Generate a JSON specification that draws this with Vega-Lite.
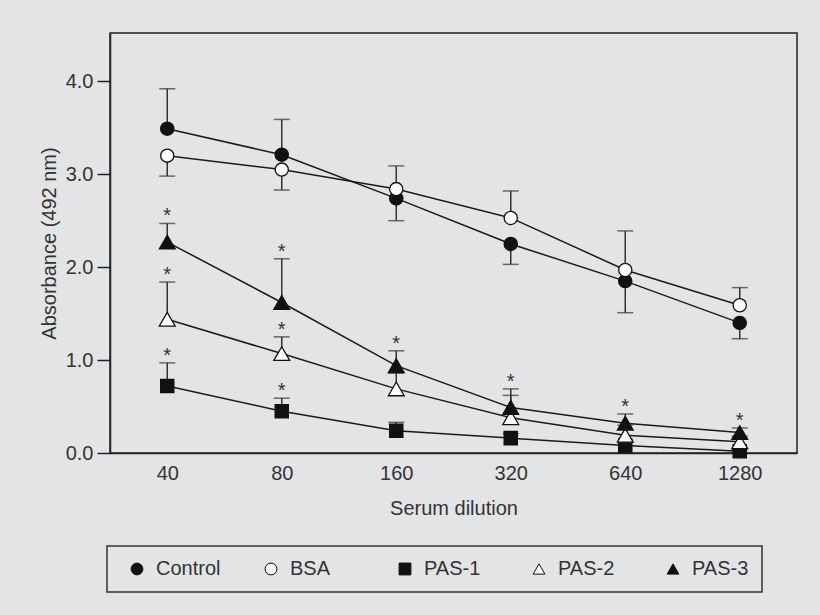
{
  "$schema": "https://vega.github.io/schema/vega-lite/v6.json",
  "width": 687,
  "height": 420,
  "autosize": {"type": "none"},
  "padding": {"left": 110, "top": 33, "right": 23, "bottom": 162},
  "background": "#e3e4e6",
  "config": {
    "font": "Liberation Sans",
    "view": {"stroke": "#222222", "strokeWidth": 1.5},
    "axis": {
      "grid": false,
      "domainColor": "#222222",
      "domainWidth": 1.5,
      "tickColor": "#222222",
      "tickWidth": 1.5,
      "labelColor": "#333333",
      "titleColor": "#333333",
      "labelFont": "Liberation Sans",
      "titleFont": "Liberation Sans",
      "titleFontWeight": "normal",
      "labelFontSize": 20,
      "titleFontSize": 20
    },
    "legend": {
      "labelFont": "Liberation Sans",
      "labelFontSize": 20,
      "labelColor": "#333333",
      "symbolSize": 140,
      "symbolStrokeWidth": 1,
      "strokeColor": "#333333",
      "strokeWidth": 1.5,
      "padding": 13,
      "symbolOffset": 7,
      "labelOffset": 9
    }
  },
  "data": {
    "values": [
      {"group": "Control", "dilution": 40, "mean": 3.49, "bar": 3.92, "star": false},
      {"group": "Control", "dilution": 80, "mean": 3.21, "bar": 3.59, "star": false},
      {"group": "Control", "dilution": 160, "mean": 2.74, "bar": 2.5, "star": false},
      {"group": "Control", "dilution": 320, "mean": 2.25, "bar": 2.03, "star": false},
      {"group": "Control", "dilution": 640, "mean": 1.85, "bar": 1.51, "star": false},
      {"group": "Control", "dilution": 1280, "mean": 1.4, "bar": 1.23, "star": false},
      {"group": "BSA", "dilution": 40, "mean": 3.2, "bar": 2.98, "star": false},
      {"group": "BSA", "dilution": 80, "mean": 3.05, "bar": 2.83, "star": false},
      {"group": "BSA", "dilution": 160, "mean": 2.84, "bar": 3.09, "star": false},
      {"group": "BSA", "dilution": 320, "mean": 2.53, "bar": 2.82, "star": false},
      {"group": "BSA", "dilution": 640, "mean": 1.97, "bar": 2.39, "star": false},
      {"group": "BSA", "dilution": 1280, "mean": 1.59, "bar": 1.78, "star": false},
      {"group": "PAS-1", "dilution": 40, "mean": 0.72, "bar": 0.97, "star": true},
      {"group": "PAS-1", "dilution": 80, "mean": 0.45, "bar": 0.59, "star": true},
      {"group": "PAS-1", "dilution": 160, "mean": 0.24, "bar": 0.33, "star": false},
      {"group": "PAS-1", "dilution": 320, "mean": 0.16, "bar": 0.21, "star": false},
      {"group": "PAS-1", "dilution": 640, "mean": 0.08, "bar": 0.12, "star": false},
      {"group": "PAS-1", "dilution": 1280, "mean": 0.02, "bar": 0.04, "star": false},
      {"group": "PAS-2", "dilution": 40, "mean": 1.44, "bar": 1.84, "star": true},
      {"group": "PAS-2", "dilution": 80, "mean": 1.07, "bar": 1.25, "star": true},
      {"group": "PAS-2", "dilution": 160, "mean": 0.69, "bar": 0.86, "star": false},
      {"group": "PAS-2", "dilution": 320, "mean": 0.38, "bar": 0.62, "star": false},
      {"group": "PAS-2", "dilution": 640, "mean": 0.19, "bar": 0.3, "star": false},
      {"group": "PAS-2", "dilution": 1280, "mean": 0.12, "bar": 0.18, "star": false},
      {"group": "PAS-3", "dilution": 40, "mean": 2.27, "bar": 2.47, "star": true},
      {"group": "PAS-3", "dilution": 80, "mean": 1.62, "bar": 2.09, "star": true},
      {"group": "PAS-3", "dilution": 160, "mean": 0.94, "bar": 1.1, "star": true},
      {"group": "PAS-3", "dilution": 320, "mean": 0.49, "bar": 0.69, "star": true},
      {"group": "PAS-3", "dilution": 640, "mean": 0.32, "bar": 0.42, "star": true},
      {"group": "PAS-3", "dilution": 1280, "mean": 0.22, "bar": 0.27, "star": true}
    ]
  },
  "encoding": {
    "x": {
      "field": "dilution",
      "type": "ordinal",
      "scale": {"type": "point", "padding": 0.5},
      "axis": {
        "title": "Serum dilution",
        "labelAngle": 0,
        "ticks": false,
        "labelFontSize": 20,
        "labelPadding": 10,
        "titlePadding": 15
      }
    }
  },
  "layer": [
    {
      "mark": {"type": "line", "color": "#1a1a1a", "strokeWidth": 1.5},
      "encoding": {
        "y": {
          "field": "mean",
          "type": "quantitative",
          "title": "Absorbance (492 nm)",
          "scale": {"domain": [0, 4.52], "nice": false, "zero": true},
          "axis": {
            "values": [0, 1, 2, 3, 4],
            "format": ".1f",
            "labelFontSize": 20,
            "tickSize": 13,
            "labelPadding": 4,
            "titlePadding": 6
          }
        },
        "detail": {"field": "group"}
      }
    },
    {
      "mark": {"type": "rule", "color": "#333333", "strokeWidth": 1.5},
      "encoding": {
        "y": {"field": "mean", "type": "quantitative", "title": "Absorbance (492 nm)"},
        "y2": {"field": "bar"}
      }
    },
    {
      "mark": {"type": "tick", "color": "#333333", "size": 16, "thickness": 1.5, "orient": "horizontal"},
      "encoding": {
        "y": {"field": "bar", "type": "quantitative", "title": "Absorbance (492 nm)"}
      }
    },
    {
      "transform": [{"filter": "datum.group == 'Control' || datum.group == 'BSA' || datum.group == 'PAS-1'"}],
      "mark": {"type": "point", "opacity": 1, "strokeWidth": 1.3, "size": 175},
      "encoding": {
        "y": {"field": "mean", "type": "quantitative", "title": "Absorbance (492 nm)"},
        "shape": {
          "field": "group",
          "type": "nominal",
          "scale": {
            "domain": ["Control", "BSA", "PAS-1", "PAS-2", "PAS-3"],
            "range": ["circle", "circle", "square", "triangle-up", "triangle-up"]
          },
          "legend": {
            "title": null,
            "orient": "none",
            "direction": "horizontal",
            "legendX": -3,
            "legendY": 513,
            "columns": 5,
            "gridAlign": "all",
            "columnPadding": 33
          }
        },
        "fill": {
          "field": "group",
          "type": "nominal",
          "scale": {
            "domain": ["Control", "BSA", "PAS-1", "PAS-2", "PAS-3"],
            "range": ["#111111", "#ffffff", "#111111", "#ffffff", "#111111"]
          },
          "legend": {
            "title": null,
            "orient": "none",
            "direction": "horizontal",
            "legendX": -3,
            "legendY": 513,
            "columns": 5,
            "gridAlign": "all",
            "columnPadding": 33
          }
        },
        "stroke": {
          "field": "group",
          "type": "nominal",
          "scale": {
            "domain": ["Control", "BSA", "PAS-1", "PAS-2", "PAS-3"],
            "range": ["#111111", "#111111", "#111111", "#111111", "#111111"]
          },
          "legend": {
            "title": null,
            "orient": "none",
            "direction": "horizontal",
            "legendX": -3,
            "legendY": 513,
            "columns": 5,
            "gridAlign": "all",
            "columnPadding": 33
          }
        }
      }
    },
    {
      "transform": [{"filter": "datum.group == 'PAS-2' || datum.group == 'PAS-3'"}],
      "mark": {"type": "point", "opacity": 1, "strokeWidth": 1.3, "size": 250},
      "encoding": {
        "y": {"field": "mean", "type": "quantitative", "title": "Absorbance (492 nm)"},
        "shape": {"field": "group", "type": "nominal"},
        "fill": {"field": "group", "type": "nominal"},
        "stroke": {"field": "group", "type": "nominal"}
      }
    },
    {
      "transform": [{"filter": "datum.star"}],
      "mark": {"type": "text", "text": "*", "fontSize": 20, "color": "#333333", "baseline": "alphabetic", "dy": -1},
      "encoding": {
        "y": {"field": "bar", "type": "quantitative", "title": "Absorbance (492 nm)"}
      }
    }
  ]
}
